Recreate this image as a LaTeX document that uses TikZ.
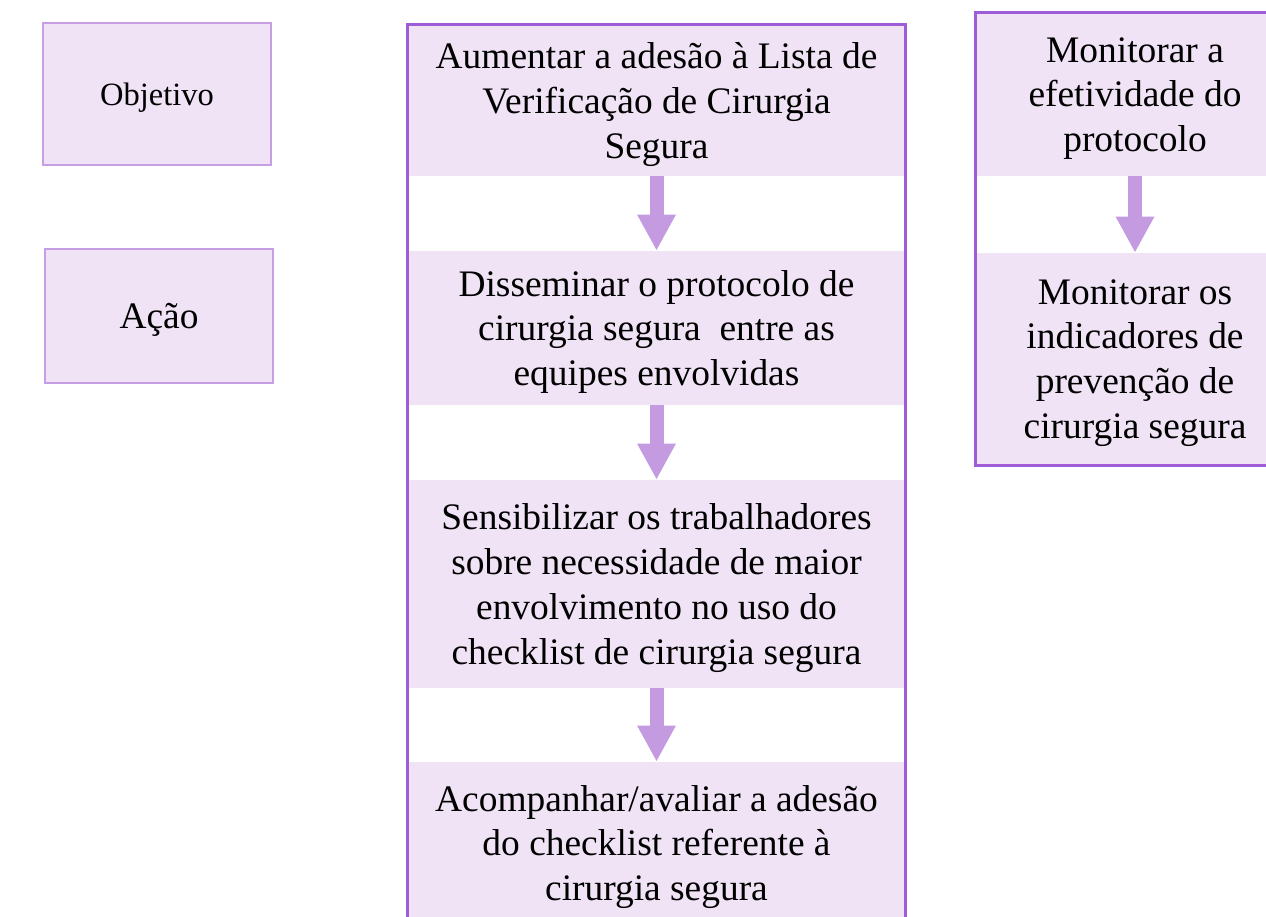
\documentclass[tikz,border=0pt]{standalone}
\usepackage{fontspec}
\setmainfont{Liberation Serif}
\usetikzlibrary{arrows.meta}
\definecolor{cellfill}{RGB}{239,227,245}
\definecolor{colline}{RGB}{158,92,214}
\definecolor{tagline}{RGB}{198,158,228}
\definecolor{flowcol}{RGB}{196,154,224}
\begin{document}
\begin{tikzpicture}[x=0.02cm, y=-0.02cm,
  cell/.style={fill=cellfill, inner sep=0pt, align=center, text depth=0pt, font=\fontsize{21.3}{25.5}\selectfont},
  tag/.style={cell, draw=tagline, line width=0.8pt},
  flow/.style={draw=flowcol, line width=0.28cm, -{Triangle[width=0.72cm,length=0.72cm]}}]
\useasboundingbox (0,0) rectangle (1266,916);
\clip (0,0) rectangle (1266,916);
\node [tag, minimum width=4.56cm, minimum height=2.84cm, font=\fontsize{18.5}{22}\selectfont] (obj) at (157,94) {Objetivo};
\node [tag, minimum width=4.56cm, minimum height=2.68cm] (acao) at (159,316) {Ação};
\node [cell, minimum width=9.94cm, minimum height=3.02cm] (c1) at (656.5,100.5) {Aumentar a adesão à Lista de\\Verificação de Cirurgia\\Segura};
\node [cell, minimum width=9.94cm, minimum height=3.08cm] (c2) at (656.5,328) {Disseminar o protocolo de\\cirurgia segura~ entre as\\equipes envolvidas};
\node [cell, minimum width=9.94cm, minimum height=4.16cm] (c3) at (656.5,584) {Sensibilizar os trabalhadores\\sobre necessidade de maior\\envolvimento no uso do\\checklist de cirurgia segura};
\node [cell, minimum width=9.94cm, minimum height=3.24cm] (c4) at (656.5,843) {Acompanhar/avaliar a adesão\\do checklist referente à\\cirurgia segura};
\node [cell, minimum width=6.36cm, minimum height=3.26cm] (r1) at (1135,94.5) {Monitorar a\\efetividade do\\protocolo};
\node [cell, minimum width=6.36cm, minimum height=4.24cm] (r2) at (1135,359) {Monitorar os\\indicadores de\\prevenção de\\cirurgia segura};
\draw [flow] (c1) -- (c2);
\draw [flow] (c2) -- (c3);
\draw [flow] (c3) -- (c4);
\draw [flow] (r1) -- (r2);
\draw [colline, line width=1.7pt] (c1.north west) rectangle (c4.south east);
\draw [colline, line width=1.7pt] (r1.north west) rectangle (r2.south east);
\end{tikzpicture}
\end{document}
